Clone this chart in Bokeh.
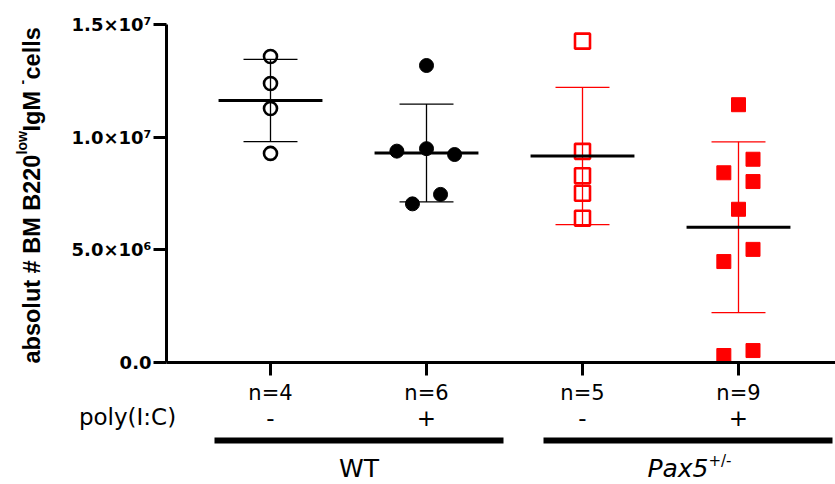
import numpy as np
from bokeh.plotting import figure
from bokeh.models import FixedTicker, Range1d, CustomJSTickFormatter
from bokeh.core.properties import value
from bokeh.embed import file_html
from bokeh.resources import INLINE

# ---------------- data ----------------
n_labels = ["n=4", "n=6", "n=5", "n=9"]
polyic_labels = ["-", "+", "-", "+"]

wt_minus = [13.58e6, 12.38e6, 11.27e6, 9.28e6]
wt_plus = [13.18e6, 9.38e6, 9.49e6, 9.23e6, 7.46e6, 7.04e6]
pax_minus = [14.26e6, 9.37e6, 8.29e6, 7.51e6, 6.40e6]
pax_plus = [11.44e6, 9.02e6, 8.42e6, 8.03e6, 6.80e6, 5.02e6, 4.48e6, 0.53e6, 0.31e6]

# horizontal scatter (jitter) of the points, in category units
wt_minus_jit = [0, 0, 0, 0]
wt_plus_jit = [0, -0.19, 0, 0.18, 0.09, -0.09]
pax_minus_jit = [0, 0, 0, 0, 0]
pax_plus_jit = [0, 0.093, -0.094, 0.093, 0, 0.093, -0.094, 0.093, -0.094]

y_ticks = [0, 5e6, 1e7, 1.5e7]
y_tick_labels = ["0.0", "5.0×10⁶", "1.0×10⁷", "1.5×10⁷"]
x_ticks = [1, 2, 3, 4]

RED = "#ff0000"
BLACK = "#000000"

W, H = 835, 484
PX_X = 156.0                 # pixels per category
PX_Y = 338.0 / 1.5e7         # pixels per cell
X0_PX, Y0_PX = 270.0, 362.0  # pixel position of category 1 / value 0
TS = 9                       # text baseline correction (px)


def dx(img_x):
    return 1 + (img_x - X0_PX) / PX_X


def dy(img_y):
    return (Y0_PX - img_y) / PX_Y


# ---------------- figure (frame = whole canvas) ----------------
p = figure(width=W, height=H, output_backend="svg", toolbar_location=None,
           x_range=Range1d(dx(0), dx(W)), y_range=Range1d(dy(H), dy(0)),
           min_border=0, min_border_left=0, min_border_right=0,
           min_border_top=0, min_border_bottom=0)
p.title.visible = False
p.outline_line_color = None
p.grid.visible = False
p.background_fill_color = "white"
p.border_fill_color = "white"

# y axis (fixed at its place inside the canvas)
p.yaxis.fixed_location = dx(166)
p.yaxis.bounds = (0, 1.5e7)
p.yaxis.ticker = FixedTicker(ticks=y_ticks)
p.yaxis.formatter = CustomJSTickFormatter(
    args=dict(tvals=y_ticks, tlabs=y_tick_labels),
    code="const i = tvals.findIndex(t => Math.abs(t - tick) < 1); return i >= 0 ? tlabs[i] : '';")
p.yaxis.minor_tick_line_color = None
p.yaxis.major_tick_in = 0
p.yaxis.major_tick_out = 13
p.yaxis.major_tick_line_width = 3
p.yaxis.axis_line_width = 3
p.yaxis.major_label_text_font = "DejaVu Sans"
p.yaxis.major_label_text_font_style = "bold"
p.yaxis.major_label_text_font_size = "18px"
p.yaxis.major_label_text_color = "black"
p.yaxis.major_label_standoff = 2

# x axis
p.xaxis.fixed_location = 0
p.xaxis.bounds = (dx(166), dx(W))
p.xaxis.ticker = FixedTicker(ticks=x_ticks)
p.xaxis.formatter = CustomJSTickFormatter(
    args=dict(tvals=x_ticks, tlabs=n_labels),
    code="const i = tvals.findIndex(t => Math.abs(t - tick) < 0.01); return i >= 0 ? tlabs[i] : '';")
p.xaxis.minor_tick_line_color = None
p.xaxis.major_tick_in = 0
p.xaxis.major_tick_out = 13
p.xaxis.major_tick_line_width = 3
p.xaxis.axis_line_width = 3
p.xaxis.major_label_text_font = "DejaVu Sans"
p.xaxis.major_label_text_font_size = "21px"
p.xaxis.major_label_text_color = "black"
p.xaxis.major_label_standoff = 5

# ---------------- data marks ----------------
groups = [
    (1, wt_minus, wt_minus_jit, "circle", BLACK, False, 13),
    (2, wt_plus, wt_plus_jit, "circle", BLACK, True, 14),
    (3, pax_minus, pax_minus_jit, "square", RED, False, 15),
    (4, pax_plus, pax_plus_jit, "square", RED, True, 14),
]

for xc, vals, jit, marker, col, filled, size in groups:
    vals = np.asarray(vals)
    m = vals.mean()
    sd = vals.std(ddof=1)
    # error bar (mean +/- SD)
    p.segment(x0=[xc], y0=[m - sd], x1=[xc], y1=[m + sd], line_color=col, line_width=1.3)
    p.segment(x0=[xc - 0.173, xc - 0.173], y0=[m - sd, m + sd],
              x1=[xc + 0.173, xc + 0.173], y1=[m - sd, m + sd],
              line_color=col, line_width=1.3)
    # points
    xs = [xc + j for j in jit]
    if filled:
        p.scatter(xs, vals, marker=marker, size=size, fill_color=col, line_color=col, line_width=1)
    else:
        p.scatter(xs, vals, marker=marker, size=size, fill_alpha=0, line_color=col, line_width=2.6)
    # mean line
    p.segment(x0=[xc - 0.333], y0=[m], x1=[xc + 0.333], y1=[m], line_color=BLACK, line_width=3)


# ---------------- texts below / left of the plot ----------------
def txt(x, y, t, size, font="DejaVu Sans", style="normal", align="center", angle=0.0):
    p.text(x=[x], y=[y], text=[t], angle=angle, text_align=align, text_baseline="alphabetic",
           text_font=value(font), text_font_size=value(size), text_font_style=style,
           text_color="black")


txt(dx(127), dy(425 - TS), "poly(I:C)", "23px")
for xc, t in zip(x_ticks, polyic_labels):
    txt(xc, dy(426 - TS), t, "23px")

# group bars
p.segment(x0=[dx(214), dx(543)], y0=[dy(440), dy(440)], x1=[dx(503), dx(832)],
          y1=[dy(440), dy(440)], line_color="black", line_width=6)

txt(dx(358.5), dy(477 - TS), "WT", "25px")
txt(dx(708), dy(477 - TS), "Pax5", "25px", style="italic", align="right")
txt(dx(708), dy(469 - TS), "+/-", "15px", align="left")

# rotated y-axis title with superscripts
YL_FONT = "Liberation Sans"
ylab = [
    ("absolut # BM B220", 40, 363, "23.5px"),
    ("low", 30, 154, "14px"),
    (" IgM", 40, 131, "23.5px"),
    ("-", 30, 84, "14px"),
    ("cells", 40, 79, "23.5px"),
]
for t, xi, yi, fs in ylab:
    txt(dx(xi - TS), dy(yi), t, fs, font=YL_FONT, style="bold", align="left", angle=np.pi / 2)

open("out.html", "w").write(file_html(p, INLINE))
